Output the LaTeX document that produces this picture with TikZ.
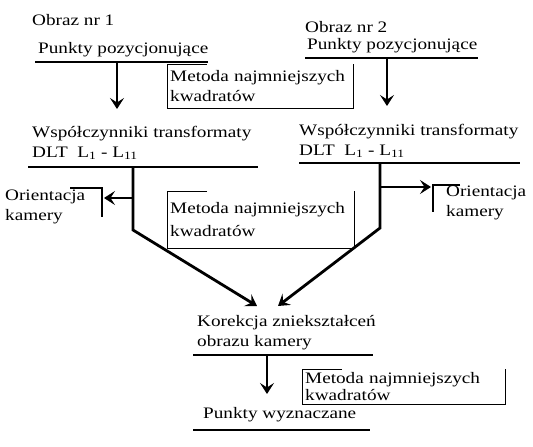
\documentclass[tikz,border=0pt]{standalone}
\usepackage{fontspec}
\setmainfont{Liberation Serif}[FakeStretch=1.2]
\usetikzlibrary{arrows.meta}

\begin{document}
\begin{tikzpicture}[x=1pt, y=-1pt,
    every node/.style={font=\fontsize{16}{20}\selectfont, inner sep=0pt},
    etykieta/.style={anchor=west, align=left},
    metoda/.style={anchor=north west, align=left, inner xsep=3pt, inner ysep=0pt},
    kreska/.style={line width=2.8pt},
    strzalka/.style={line width=2.8pt, -{Stealth[length=11pt, width=14pt, inset=4.5pt]}},
    ramka/.style={line width=0.8pt}]

\useasboundingbox (0,0) rectangle (533,447);

% =============================================
% LEWA STRONA: Obraz nr 1
% =============================================
\node[etykieta] (obraz1) at (32,20) {Obraz nr 1};
\node[etykieta] (punkty1) at (38,50) {Punkty pozycjonujące};
\coordinate (pk1a) at (35,62);
\coordinate (pk1b) at (208,62);
\draw[kreska] (pk1a) -- (pk1b);

% strzalka w dol
\coordinate (s1a) at (117,62);
\coordinate (s1b) at (117,109);
\draw[strzalka] (s1a) -- (s1b);

\node[etykieta] (wsp1) at (32,143) {Współczynniki transformaty\\DLT\ \ L\textsubscript{1} - L\textsubscript{11}};
\coordinate (wk1a) at (28,167);
\coordinate (wk1b) at (258,167);
\draw[kreska] (wk1a) -- (wk1b);

% orientacja kamery (lewa)
\node[etykieta] (orient1) at (5,207) {Orientacja\\kamery};
\coordinate (o1a) at (70,188);
\coordinate (o1b) at (102,188);
\coordinate (o1c) at (102,217);
\draw[line width=2.2pt] (o1a) -- (o1b) -- (o1c);
\coordinate (w1a) at (133,198);
\coordinate (w1b) at (104,198);
\draw[strzalka] (w1a) -- (w1b);

% linia do korekcji
\coordinate (l1a) at (133,167);
\coordinate (l1b) at (133,230);
\coordinate (l1c) at (257,306);
\draw[strzalka] (l1a) -- (l1b) -- (l1c);

% =============================================
% PRAWA STRONA: Obraz nr 2
% =============================================
\node[etykieta] (obraz2) at (305,27) {Obraz nr 2};
\node[etykieta] (punkty2) at (307,46) {Punkty pozycjonujące};
\coordinate (pk2a) at (305,58);
\coordinate (pk2b) at (478,58);
\draw[kreska] (pk2a) -- (pk2b);

% strzalka w dol
\coordinate (s2a) at (387,58);
\coordinate (s2b) at (387,106);
\draw[strzalka] (s2a) -- (s2b);

\node[etykieta] (wsp2) at (299,141) {Współczynniki transformaty\\DLT\ \ L\textsubscript{1} - L\textsubscript{11}};
\coordinate (wk2a) at (299,163);
\coordinate (wk2b) at (520,163);
\draw[kreska] (wk2a) -- (wk2b);

% orientacja kamery (prawa)
\node[etykieta] (orient2) at (446,203) {Orientacja\\kamery};
\coordinate (o2a) at (460,185);
\coordinate (o2b) at (433,185);
\coordinate (o2c) at (433,212);
\draw[line width=2.2pt] (o2a) -- (o2b) -- (o2c);
\coordinate (w2a) at (380,187);
\coordinate (w2b) at (431,187);
\draw[strzalka] (w2a) -- (w2b);

% linia do korekcji
\coordinate (l2a) at (380,163);
\coordinate (l2b) at (380,228);
\coordinate (l2c) at (278,306);
\draw[strzalka] (l2a) -- (l2b) -- (l2c);

% =============================================
% RAMKI: Metoda najmniejszych kwadratow
% =============================================
\node[metoda, text width=180pt, minimum height=44pt] (mnk1) at (167,64) {Metoda najmniejszych\\kwadratów};
\node[metoda, text width=181pt, minimum height=57pt,
      font=\fontsize{16}{23}\selectfont] (mnk2) at (167,191) {Metoda najmniejszych\\kwadratów};
\node[metoda, text width=197pt, minimum height=35pt,
      font=\fontsize{16}{17}\selectfont] (mnk3) at (302,369) {Metoda najmniejszych\\kwadratów};
\foreach \r in {mnk1, mnk2, mnk3}
    \draw[ramka] (\r.north west) ++(40,0) -- (\r.north west) -- (\r.south west)
        -- (\r.south east) -- (\r.north east);

% =============================================
% DOL: korekcja i punkty wyznaczane
% =============================================
\node[etykieta] (korekcja) at (197,333) {Korekcja zniekształceń\\obrazu kamery};
\coordinate (kk1) at (193,355);
\coordinate (kk2) at (373,355);
\draw[kreska] (kk1) -- (kk2);

\coordinate (s3a) at (267,355);
\coordinate (s3b) at (267,394);
\draw[strzalka] (s3a) -- (s3b);

\node[etykieta] (wynik) at (203,415) {Punkty wyznaczane};
\coordinate (pw1) at (193,430);
\coordinate (pw2) at (370,430);
\draw[kreska] (pw1) -- (pw2);

\end{tikzpicture}
\end{document}
